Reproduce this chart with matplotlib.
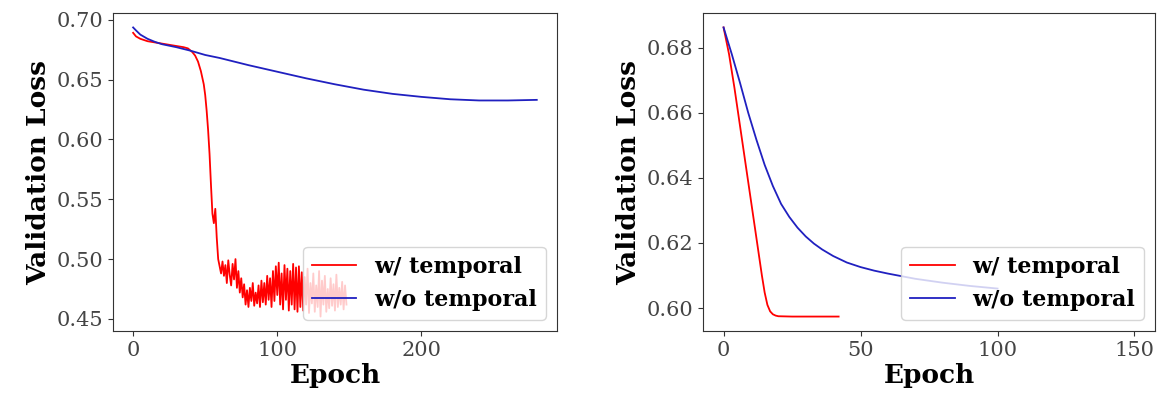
import matplotlib
matplotlib.use("Agg")
import matplotlib.pyplot as plt

plt.rcParams['font.family'] = ['DejaVu Serif']

# ---------------- Left panel data ----------------
left_red_epoch = [0, 2, 5, 10, 15, 20, 25, 30, 35, 38, 41, 43, 45, 47, 49, 50, 51, 52, 53, 54,
                  55, 56, 57, 58, 59, 60, 61, 62, 63, 64, 65, 66, 67, 68, 69, 70, 71, 72, 73,
                  74, 75, 76, 77, 78, 79, 80, 81, 82, 83, 84, 85, 86, 87, 88, 89, 90, 91, 92,
                  93, 94, 95, 96, 97, 98, 99, 100, 101, 102, 103, 104, 105, 106, 107, 108, 109,
                  110, 111, 112, 113, 114, 115, 116, 117, 118, 119, 120, 121, 122, 123, 124,
                  125, 126, 127, 128, 129, 130, 131, 132, 133, 134, 135, 136, 137, 138, 139,
                  140, 141, 142, 143, 144, 145, 146, 147, 148]
left_red_loss = [0.689, 0.686, 0.684, 0.682, 0.681, 0.680, 0.679, 0.678, 0.677, 0.676, 0.673,
                 0.670, 0.665, 0.657, 0.646, 0.637, 0.624, 0.608, 0.588, 0.562,
                 0.538, 0.530, 0.542, 0.518, 0.500, 0.494, 0.488, 0.498, 0.486, 0.495, 0.480,
                 0.499, 0.487, 0.478, 0.496, 0.483, 0.500, 0.476, 0.490,
                 0.472, 0.484, 0.468, 0.479, 0.462, 0.474, 0.460, 0.476, 0.465, 0.480, 0.461,
                 0.472, 0.463, 0.478, 0.460, 0.482, 0.464, 0.480, 0.462,
                 0.486, 0.466, 0.484, 0.460, 0.490, 0.465, 0.494, 0.470, 0.497, 0.462, 0.488,
                 0.458, 0.495, 0.466, 0.492, 0.457, 0.490,
                 0.462, 0.496, 0.458, 0.493, 0.456, 0.494, 0.460, 0.489, 0.457, 0.485, 0.462,
                 0.492, 0.455, 0.480, 0.463,
                 0.488, 0.456, 0.478, 0.460, 0.490, 0.452, 0.482, 0.462, 0.486, 0.456, 0.475,
                 0.459, 0.484, 0.461, 0.479,
                 0.457, 0.487, 0.460, 0.476, 0.462, 0.481, 0.458, 0.478, 0.462]

left_blue_epoch = [0, 2, 5, 10, 15, 20, 30, 40, 50, 60, 80, 100, 120, 140, 160, 180, 200, 220,
                   240, 260, 280]
left_blue_loss = [0.6935, 0.691, 0.6875, 0.684, 0.6815, 0.6795, 0.677, 0.674, 0.6705, 0.668,
                  0.662, 0.6565, 0.651, 0.646, 0.6415, 0.638, 0.6355, 0.6335, 0.6325, 0.6325,
                  0.633]

# ---------------- Right panel data ----------------
right_red_epoch = [0, 2, 4, 6, 8, 10, 12, 14, 15, 16, 17, 18, 19, 20, 25, 30, 35, 42]
right_red_loss = [0.6862, 0.678, 0.6675, 0.656, 0.6445, 0.633, 0.6215, 0.610, 0.6048, 0.601,
                  0.5990, 0.5981, 0.5977, 0.5975, 0.5974, 0.5974, 0.5974, 0.5974]

right_blue_epoch = [0, 3, 6, 9, 12, 15, 18, 21, 24, 27, 30, 33, 36, 40, 45, 50, 55, 60, 70, 80,
                    90, 100]
right_blue_loss = [0.6862, 0.678, 0.6692, 0.660, 0.6517, 0.644, 0.6375, 0.632, 0.628, 0.6247,
                   0.622, 0.6198, 0.618, 0.616, 0.614, 0.6126, 0.6115, 0.6106, 0.609, 0.6078,
                   0.6068, 0.606]

labels = ['w/ temporal', 'w/o temporal']

fig = plt.figure(figsize=(11.62, 3.97), dpi=100)
ax1 = fig.add_axes([0.0972, 0.1662, 0.3821, 0.8011])
ax2 = fig.add_axes([0.605, 0.1662, 0.389, 0.8011])

ax1.plot(left_red_epoch, left_red_loss, color='red', lw=1.3, label=labels[0])
ax1.plot(left_blue_epoch, left_blue_loss, color='#2020c0', lw=1.3, label=labels[1])
ax2.plot(right_red_epoch, right_red_loss, color='red', lw=1.3, label=labels[0])
ax2.plot(right_blue_epoch, right_blue_loss, color='#2020c0', lw=1.3, label=labels[1])
ax2.set_xlim(-7.5, 157.5)

ax1.set_yticks([0.45, 0.50, 0.55, 0.60, 0.65, 0.70])
ax1.set_xticks([0, 100, 200])
ax2.set_yticks([0.60, 0.62, 0.64, 0.66, 0.68])
ax2.set_xticks([0, 50, 100, 150])

for ax in (ax1, ax2):
    ax.set_xlabel('Epoch', fontsize=19, fontweight='bold', labelpad=2)
    ax.set_ylabel('Validation Loss', fontsize=19, fontweight='bold', labelpad=4)
    ax.tick_params(labelsize=15, colors='#333333', labelcolor='#444444')
    for s in ax.spines.values():
        s.set_color('#333333')
    ax.legend(loc='lower right', prop={'family': 'DejaVu Serif', 'weight': 'bold', 'size': 16},
              handlelength=2.0, borderaxespad=0.5)

fig.savefig('out.png', dpi=100)
